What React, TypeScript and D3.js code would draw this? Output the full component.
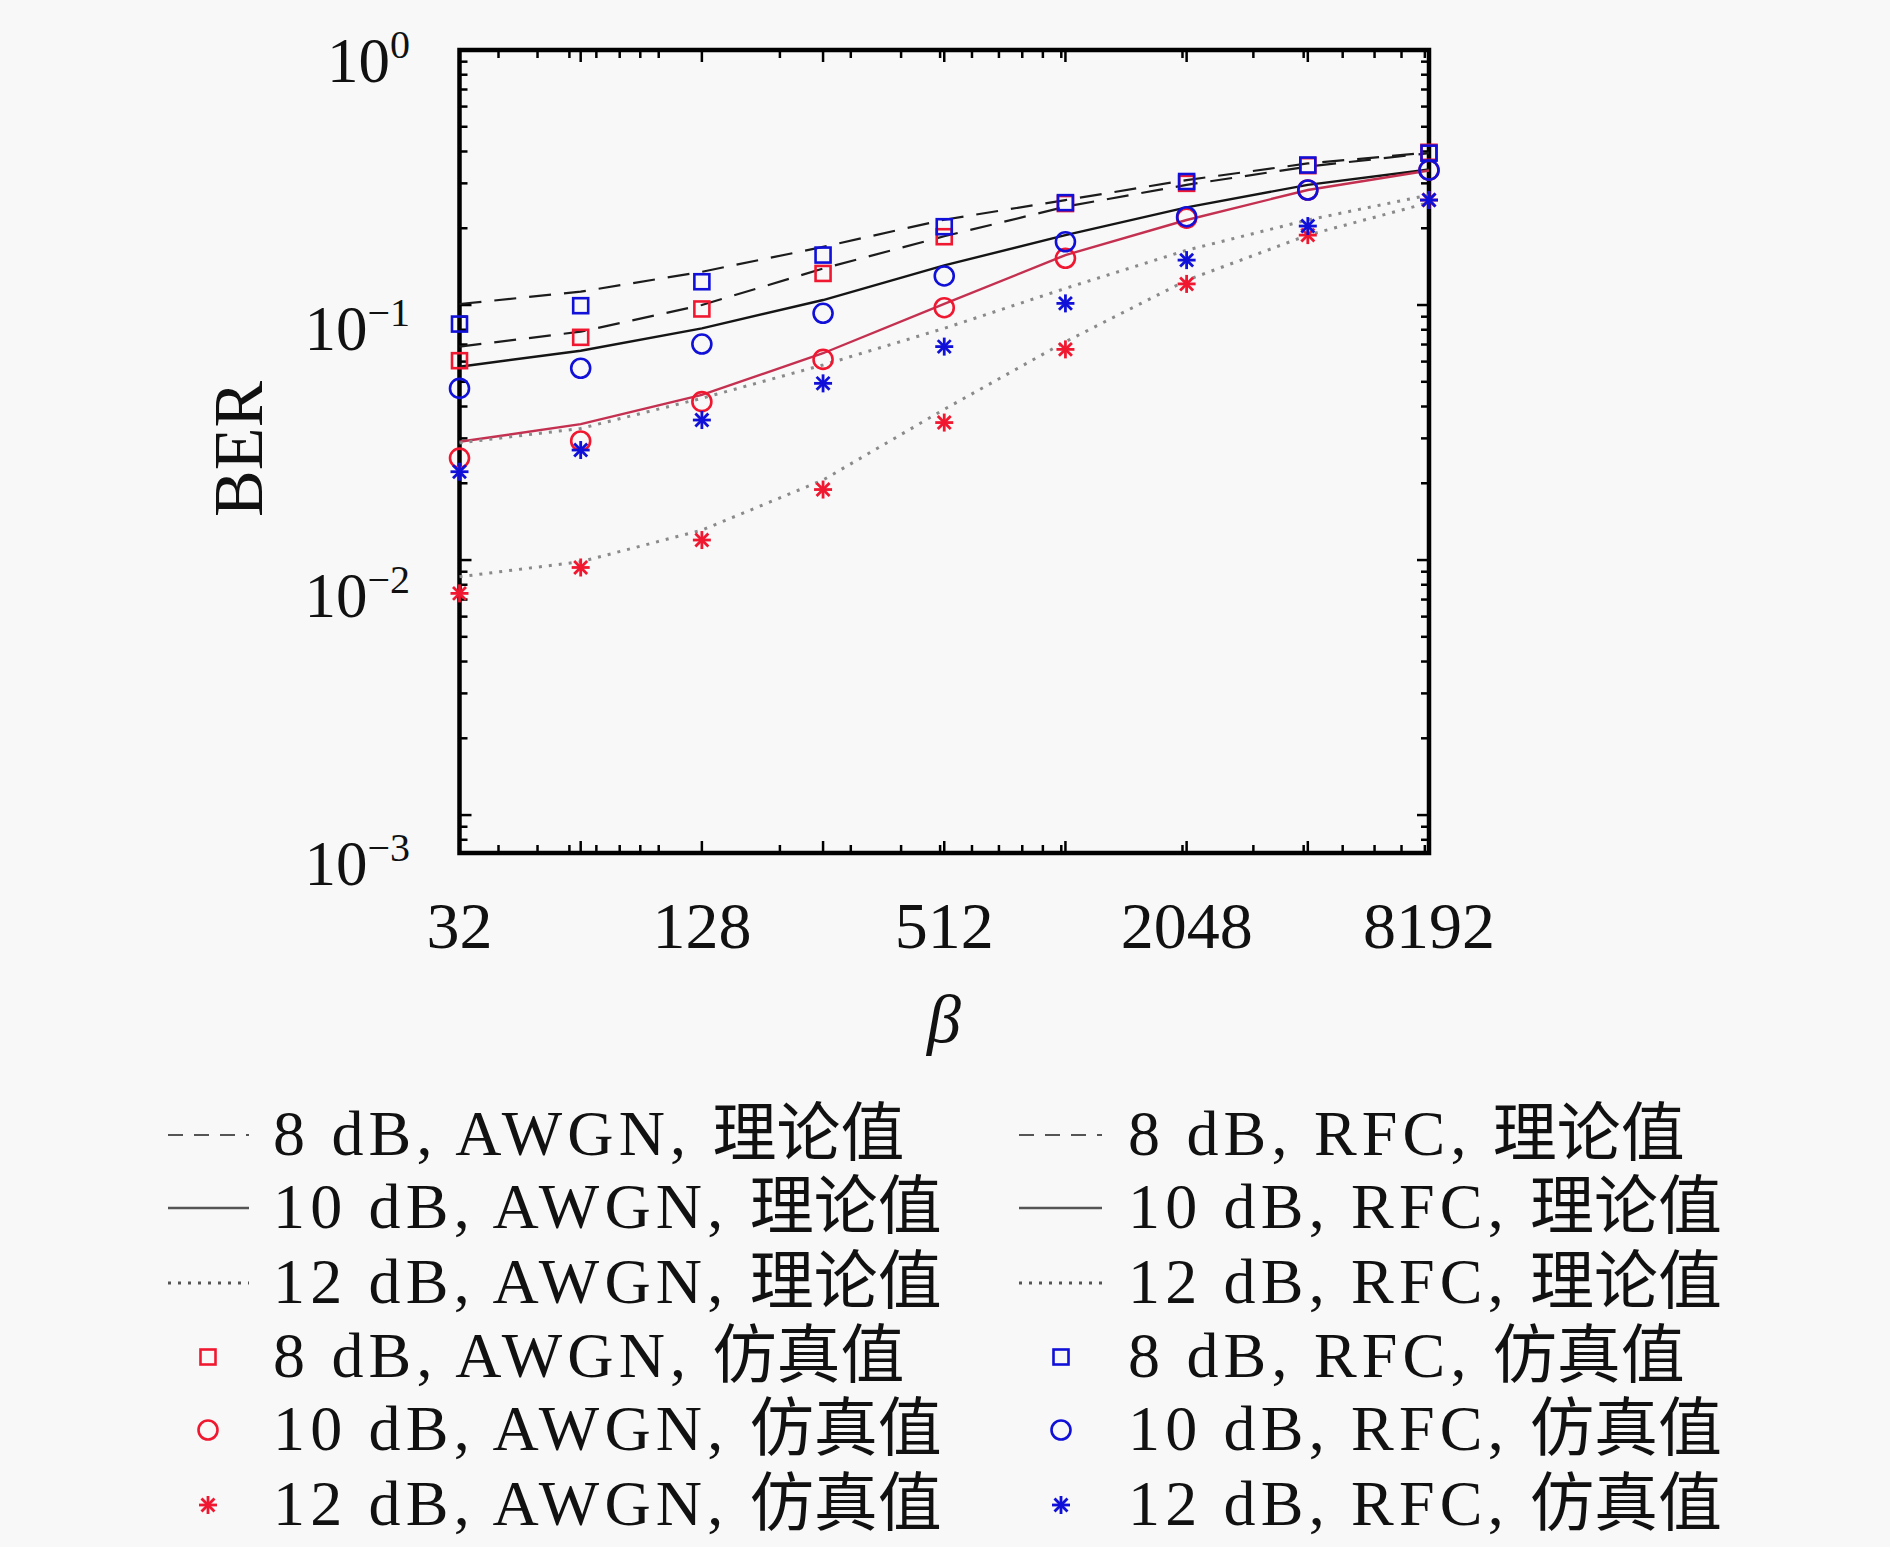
import React from "react";
import * as d3 from "d3";

// ---- data ----
const betaValues = [32, 64, 128, 256, 512, 1024, 2048, 4096, 8192];

// theoretical curves
const theoryAwgn8 = [0.0687, 0.0786, 0.1, 0.139, 0.186, 0.243, 0.296, 0.349, 0.394];
const theoryRfc8 = [0.1009, 0.1128, 0.135, 0.169, 0.216, 0.258, 0.309, 0.359, 0.396];
const theoryAwgn10 = [0.0291, 0.0341, 0.0444, 0.0647, 0.101, 0.157, 0.2155, 0.2825, 0.337];
const theoryRfc10 = [0.0573, 0.0662, 0.081, 0.1046, 0.143, 0.188, 0.2415, 0.296, 0.34];
const theoryAwgn12 = [0.0086, 0.00985, 0.0131, 0.0206, 0.039, 0.0718, 0.125, 0.188, 0.252];
const theoryRfc12 = [0.0288, 0.0328, 0.0431, 0.0582, 0.081, 0.1162, 0.164, 0.2155, 0.27];

// simulated points
const simAwgn8 = [0.0605, 0.0747, 0.0965, 0.133, 0.1853, 0.25, 0.3, 0.352, 0.397];
const simRfc8 = [0.0842, 0.0994, 0.1234, 0.157, 0.2028, 0.252, 0.305, 0.354, 0.394];
const simAwgn10 = [0.0251, 0.0293, 0.0418, 0.0612, 0.0976, 0.1525, 0.219, 0.2825, 0.338];
const simRfc10 = [0.0471, 0.0565, 0.0703, 0.0928, 0.13, 0.177, 0.222, 0.2825, 0.338];
const simAwgn12 = [0.0074, 0.00935, 0.01198, 0.0189, 0.0346, 0.067, 0.121, 0.188, 0.258];
const simRfc12 = [0.0222, 0.027, 0.0354, 0.0493, 0.0687, 0.1015, 0.15, 0.204, 0.258];

const xTickLabelValues = [32, 128, 512, 2048, 8192];
const yTickValues = [1, 0.1, 0.01, 0.001];
const yTickExponents = ["0", "\u22121", "\u22122", "\u22123"];

const legendLeft = [
  "8 dB, AWGN, |理论值",
  "10 dB, AWGN, |理论值",
  "12 dB, AWGN, |理论值",
  "8 dB, AWGN, |仿真值",
  "10 dB, AWGN, |仿真值",
  "12 dB, AWGN, |仿真值",
];
const legendRight = [
  "8 dB, RFC, |理论值",
  "10 dB, RFC, |理论值",
  "12 dB, RFC, |理论值",
  "8 dB, RFC, |仿真值",
  "10 dB, RFC, |仿真值",
  "12 dB, RFC, |仿真值",
];

// ---- styles ----
const W = 1890;
const H = 1547;
const RED = "#f01830";
const BLUE = "#1010d8";
const FONT = "'Liberation Serif', 'Noto Sans CJK SC', serif";

const x = d3.scaleLog().base(2).domain([32, 8192]).range([459.5, 1429]);
const y = d3.scaleLog().domain([1, 7.1e-4]).range([50, 853]);
const yLabel = d3.scaleLog().domain([1, 1e-3]).range([82, 885]);

const xMinor: number[] = [];
[10, 100, 1000].forEach((p) => {
  for (let k = 1; k <= 9; k++) {
    const v = k * p;
    if (v > 32 && v < 8192) xMinor.push(v);
  }
});
const yMinor = y.ticks().filter((v) => !yTickValues.some((t) => Math.abs(t - v) / t < 1e-6));

type Style = { stroke: string; dash?: string; width: number };
const lineStyles: Record<string, Style> = {
  dashed: { stroke: "#1c1c1c", dash: "22,13", width: 2.2 },
  solid: { stroke: "#151515", width: 2.4 },
  solidRed: { stroke: "#c43050", width: 2.4 },
  dotted: { stroke: "#8a8a8a", dash: "3,7", width: 3 },
};

const theorySeries = [
  { values: theoryAwgn8, style: "dashed" },
  { values: theoryRfc8, style: "dashed" },
  { values: theoryRfc10, style: "solid" },
  { values: theoryAwgn10, style: "solidRed" },
  { values: theoryAwgn12, style: "dotted" },
  { values: theoryRfc12, style: "dotted" },
];

const simSeries = [
  { values: simAwgn8, marker: "square", color: RED },
  { values: simAwgn10, marker: "circle", color: RED },
  { values: simAwgn12, marker: "star", color: RED },
  { values: simRfc8, marker: "square", color: BLUE },
  { values: simRfc10, marker: "circle", color: BLUE },
  { values: simRfc12, marker: "star", color: BLUE },
];

function Marker({ type, cx, cy, color }: { type: string; cx: number; cy: number; color: string }) {
  if (type === "square") {
    const s = 15;
    return <rect x={cx - s / 2} y={cy - s / 2} width={s} height={s} fill="none" stroke={color} strokeWidth={2.6} />;
  }
  if (type === "circle") {
    return <circle cx={cx} cy={cy} r={9.5} fill="none" stroke={color} strokeWidth={2.6} />;
  }
  const r = 9;
  const d = r * 0.72;
  return (
    <g stroke={color} strokeWidth={2.8}>
      <line x1={cx - r} y1={cy} x2={cx + r} y2={cy} />
      <line x1={cx} y1={cy - r} x2={cx} y2={cy + r} />
      <line x1={cx - d} y1={cy - d} x2={cx + d} y2={cy + d} />
      <line x1={cx - d} y1={cy + d} x2={cx + d} y2={cy - d} />
    </g>
  );
}

const lineGen = d3
  .line<[number, number]>()
  .x((d) => x(d[0]))
  .y((d) => y(d[1]));

function LegendText({ tx, ty, label }: { tx: number; ty: number; label: string }) {
  const [latin, cjk] = label.split("|");
  return (
    <text x={tx} y={ty} fontFamily={FONT} fontSize={64} fill="#111">
      <tspan letterSpacing={5.2} style={{ whiteSpace: "pre" }}>{latin}</tspan>
      <tspan fontFamily="'Noto Sans CJK SC', sans-serif" fontSize={64}>{cjk}</tspan>
    </text>
  );
}

export default function App() {
  const [x0, x1] = x.range();
  const [y0, y1] = y.range();
  const legendBaselines = [1155, 1228, 1303, 1377, 1450, 1525];
  const legendStyles = ["dashed", "solid", "dotted"];
  const legendMarkers = ["square", "circle", "star"];
  return (
    <div>
      <style>{`body{margin:0;}`}</style>
      <svg width={W} height={H} viewBox={`0 0 ${W} ${H}`} style={{ display: "block" }}>
        <rect x={0} y={0} width={W} height={H} fill="#f8f8f8" />

        {/* ticks */}
        <g stroke="#000" strokeWidth={2.5}>
          {betaValues.map((v) => (
            <g key={"xM" + v}>
              <line x1={x(v)} x2={x(v)} y1={y1} y2={y1 - 12} />
              <line x1={x(v)} x2={x(v)} y1={y0} y2={y0 + 12} />
            </g>
          ))}
          {xMinor.map((v) => (
            <g key={"xm" + v}>
              <line x1={x(v)} x2={x(v)} y1={y1} y2={y1 - 8} />
              <line x1={x(v)} x2={x(v)} y1={y0} y2={y0 + 8} />
            </g>
          ))}
          {yTickValues.map((v) => (
            <g key={"yM" + v}>
              <line x1={x0} x2={x0 + 12} y1={y(v)} y2={y(v)} />
              <line x1={x1} x2={x1 - 12} y1={y(v)} y2={y(v)} />
            </g>
          ))}
          {yMinor.map((v) => (
            <g key={"ym" + v}>
              <line x1={x0} x2={x0 + 8} y1={y(v)} y2={y(v)} />
              <line x1={x1} x2={x1 - 8} y1={y(v)} y2={y(v)} />
            </g>
          ))}
        </g>
        <rect x={x0} y={y0} width={x1 - x0} height={y1 - y0} fill="none" stroke="#000" strokeWidth={4.5} />

        {/* tick labels */}
        {xTickLabelValues.map((v) => (
          <text key={"xl" + v} x={x(v)} y={948} textAnchor="middle" fontFamily={FONT} fontSize={66} fill="#111">
            {String(v)}
          </text>
        ))}
        {yTickValues.map((v, i) => (
          <text key={"yl" + v} x={410} y={yLabel(v)} textAnchor="end" fontFamily={FONT} fontSize={63} fill="#111">
            10
            <tspan fontSize={40} dy={-24}>
              {yTickExponents[i]}
            </tspan>
          </text>
        ))}

        {/* axis titles */}
        <text transform="translate(262,449) rotate(-90)" textAnchor="middle" fontFamily={FONT} fontSize={70} fill="#111">
          BER
        </text>
        <text x={944} y={1042} textAnchor="middle" fontFamily={FONT} fontStyle="italic" fontSize={68} fill="#111">
          β
        </text>

        {/* theory lines */}
        {theorySeries.map((s, i) => {
          const st = lineStyles[s.style];
          const pts = betaValues.map((b, j) => [b, s.values[j]] as [number, number]);
          return (
            <path
              key={"t" + i}
              d={lineGen(pts) || ""}
              fill="none"
              stroke={st.stroke}
              strokeWidth={st.width}
              strokeDasharray={st.dash}
            />
          );
        })}

        {/* simulated markers */}
        {simSeries.map((s, i) => (
          <g key={"s" + i}>
            {betaValues.map((b, j) => (
              <Marker key={j} type={s.marker} cx={x(b)} cy={y(s.values[j])} color={s.color} />
            ))}
          </g>
        ))}

        {/* legend */}
        {legendLeft.map((label, i) => (
          <g key={"ll" + i}>
            {i < 3 ? (
              <line
                x1={168}
                x2={249}
                y1={legendBaselines[i] - 20}
                y2={legendBaselines[i] - 20}
                stroke="#555"
                strokeWidth={lineStyles[legendStyles[i]].width}
                strokeDasharray={i === 0 ? "15,11" : lineStyles[legendStyles[i]].dash}
              />
            ) : (
              <Marker type={legendMarkers[i - 3]} cx={208} cy={legendBaselines[i] - 20} color={RED} />
            )}
            <LegendText tx={273} ty={legendBaselines[i]} label={label} />
          </g>
        ))}
        {legendRight.map((label, i) => (
          <g key={"lr" + i}>
            {i < 3 ? (
              <line
                x1={1019}
                x2={1102}
                y1={legendBaselines[i] - 20}
                y2={legendBaselines[i] - 20}
                stroke="#555"
                strokeWidth={lineStyles[legendStyles[i]].width}
                strokeDasharray={i === 0 ? "15,11" : lineStyles[legendStyles[i]].dash}
              />
            ) : (
              <Marker type={legendMarkers[i - 3]} cx={1061} cy={legendBaselines[i] - 20} color={BLUE} />
            )}
            <LegendText tx={1128} ty={legendBaselines[i]} label={label} />
          </g>
        ))}
      </svg>
    </div>
  );
}
